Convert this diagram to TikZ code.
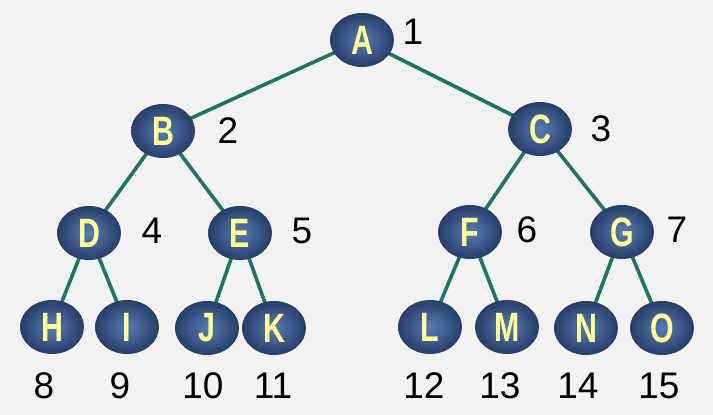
\documentclass[tikz,border=0pt]{standalone}
\usepackage{fontspec}
\setmainfont{Liberation Sans}
\usetikzlibrary{shapes.geometric}
\definecolor{bgc}{RGB}{242,242,242}
\definecolor{edgec}{RGB}{28,118,98}
\definecolor{ballin}{RGB}{86,124,180}
\definecolor{ballout}{RGB}{40,62,104}
\definecolor{letc}{RGB}{255,255,150}
\tikzset{
  ball/.style={ellipse, minimum width=64pt, minimum height=54pt, inner sep=0pt,
    inner color=ballin, outer color=ballout,
    font=\fontsize{41}{41}\selectfont\bfseries, text=letc},
  num/.style={font=\fontsize{37}{37}\selectfont, text=black, inner sep=0pt},
  edge/.style={draw=edgec, line width=3.6pt}
}
\newcommand{\lett}[1]{\scalebox{0.74}[1]{#1}}
\begin{document}
\begin{tikzpicture}[x=1pt,y=-1pt]
\fill[bgc] (0,0) rectangle (713,415);
\useasboundingbox (0,0) rectangle (713,415);
% coordinates for node centres
\coordinate (pA) at (362,40);
\coordinate (pB) at (163,131);
\coordinate (pC) at (540,129);
\coordinate (pD) at (89,233);
\coordinate (pE) at (240,233);
\coordinate (pF) at (470,232);
\coordinate (pG) at (622,232);
\coordinate (pH) at (52,327);
\coordinate (pI) at (127,327);
\coordinate (pJ) at (207,328);
\coordinate (pK) at (274,328);
\coordinate (pL) at (430,327);
\coordinate (pM) at (507,327);
\coordinate (pN) at (586,328);
\coordinate (pO) at (662,328);
% edges
\draw[edge] (pA) -- (pB);
\draw[edge] (pA) -- (pC);
\draw[edge] (pB) -- (pD);
\draw[edge] (pB) -- (pE);
\draw[edge] (pC) -- (pF);
\draw[edge] (pC) -- (pG);
\draw[edge] (pD) -- (pH);
\draw[edge] (pD) -- (pI);
\draw[edge] (pE) -- (pJ);
\draw[edge] (pE) -- (pK);
\draw[edge] (pF) -- (pL);
\draw[edge] (pF) -- (pM);
\draw[edge] (pG) -- (pN);
\draw[edge] (pG) -- (pO);
% nodes
\foreach \n in {A,B,C,D,E,F,G,H,I,J,K,L,M,N,O}{
  \node[ball] (\n) at (p\n) {\lett{\n}};
}
% numbers
\node[num] (n1) at (413,32) {1};
\node[num] (n2) at (228,131) {2};
\node[num] (n3) at (601,129) {3};
\node[num] (n4) at (152,231) {4};
\node[num] (n5) at (302,231) {5};
\node[num] (n6) at (527,230) {6};
\node[num] (n7) at (677,230) {7};
\node[num] (n8) at (44,386) {8};
\node[num] (n9) at (120,386) {9};
\node[num] (n10) at (203,386) {10};
\node[num] (n11) at (273,386) {11};
\node[num] (n12) at (424,386) {12};
\node[num] (n13) at (500,386) {13};
\node[num] (n14) at (578,386) {14};
\node[num] (n15) at (659,386) {15};
\end{tikzpicture}
\end{document}
